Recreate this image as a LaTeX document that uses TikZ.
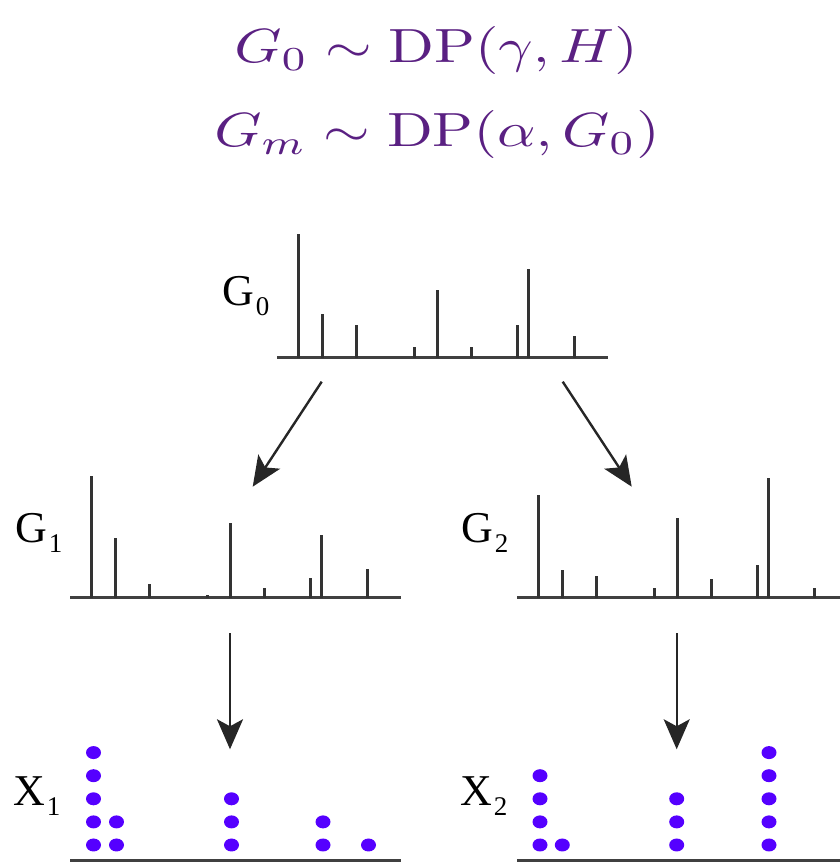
\documentclass[tikz,border=0pt]{standalone}
\usepackage{fontspec}
\newfontfamily\labelfont{Liberation Serif}
\usetikzlibrary{arrows.meta,positioning,shapes}

\definecolor{titlepurple}{RGB}{90,32,130}
\definecolor{dotblue}{RGB}{85,0,255}
\newcommand\lowsub[1]{\kern2pt\raisebox{-10pt}{\fontsize{27}{27}\selectfont#1}}

\begin{document}
\begin{tikzpicture}[x=1pt,y=1pt,
  stick/.style={line width=3pt,draw=black!80},
  axis/.style={line width=3.5pt,draw=black!75},
  drawarrow/.style={line width=2.4pt,draw=black!85,-{Stealth[length=30pt,width=26pt,inset=7pt]}},
  dist/.style={font=\labelfont\fontsize{44}{44}\selectfont,anchor=base west,inner sep=0pt},
  title/.style={text=titlepurple,anchor=base,inner sep=0pt}]
\useasboundingbox (0,0) rectangle (840,862);

\node[title] (prior) at (436,799) {\scalebox{6}[4.8]{$G_0 \sim \mathrm{DP}(\gamma, H)$}};
\node[title] (group) at (437,715) {\scalebox{6}[4.8]{$G_m \sim \mathrm{DP}(\alpha, G_0)$}};

\node[dist] (g0) at (222,556) {G\lowsub{0}};
\node[dist] (g1) at (15,319) {G\lowsub{1}};
\node[dist] (g2) at (461,319) {G\lowsub{2}};
\node[dist] (x1) at (13,56) {X\lowsub{1}};
\node[dist] (x2) at (460,56) {X\lowsub{2}};

\begin{scope}[shift={(277,504.3)}]
\draw[axis] (0,0) -- (331,0);
\foreach \x/\h in {21.5/124,45/44,79.5/33,137/11,160/68,194.5/11,240/33,251.5/89,297/22}
  \draw[stick] (\x,0) -- (\x,\h);
\end{scope}

\begin{scope}[shift={(70,264.3)}]
\draw[axis] (0,0) -- (331,0);
\foreach \x/\h in {21.5/122,45/60,79.5/14,137/3,160/75,194.5/10,240/20,251.5/63,297/29}
  \draw[stick] (\x,0) -- (\x,\h);
\end{scope}

\begin{scope}[shift={(517,264.3)}]
\draw[axis] (0,0) -- (331,0);
\foreach \x/\h in {21.5/103,45/28,79.5/22,137/10,160/80,194.5/19,240/33,251.5/120,297/10}
  \draw[stick] (\x,0) -- (\x,\h);
\end{scope}

\begin{scope}[shift={(70,1.3)}]
\draw[axis] (0,0) -- (331,0);
\foreach \x/\n in {23.5/5,46.5/2,161.5/3,253/2,298.5/1}
  \foreach \k in {1,...,\n}
    \fill[dotblue] (\x,{15.7+(\k-1)*23.1}) ellipse (7.5 and 6.5);
\end{scope}

\begin{scope}[shift={(517,1.3)}]
\draw[axis] (0,0) -- (331,0);
\foreach \x/\n in {23/4,45.3/1,159.7/3,252/5}
  \foreach \k in {1,...,\n}
    \fill[dotblue] (\x,{15.7+(\k-1)*23.1}) ellipse (7.5 and 6.5);
\end{scope}

\coordinate (g0left) at (321.7,480.3);
\coordinate (g0right) at (562.7,480.3);
\coordinate (g1top) at (252.7,375.3);
\coordinate (g2top) at (631.7,375.3);
\coordinate (g1out) at (230,228.7);
\coordinate (g2out) at (676.7,228.7);
\coordinate (x1top) at (230,112.7);
\coordinate (x2top) at (676.7,112.7);
\draw[drawarrow] (g0left) -- (g1top);
\draw[drawarrow] (g0right) -- (g2top);
\draw[drawarrow] (g1out) -- (x1top);
\draw[drawarrow] (g2out) -- (x2top);
\end{tikzpicture}
\end{document}
